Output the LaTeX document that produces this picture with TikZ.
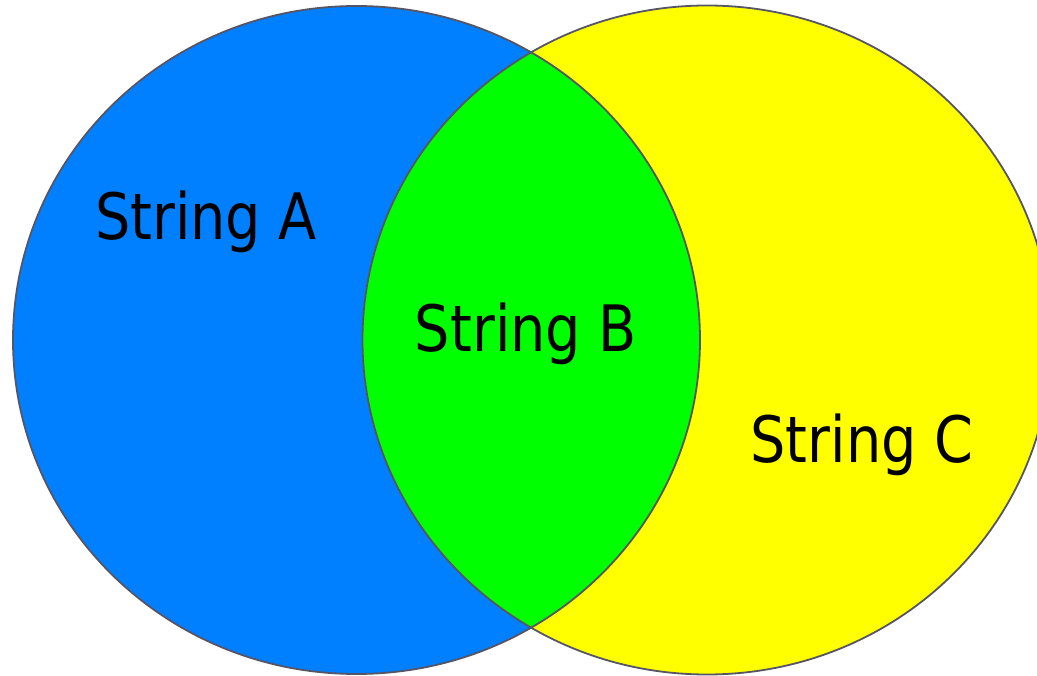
\documentclass[tikz,border=0pt]{standalone}
\usepackage{fontspec}
\newfontfamily\lblfont[FakeStretch=0.87]{DejaVu Sans}
\definecolor{setA}{HTML}{0080FF}
\definecolor{setB}{HTML}{00FF00}
\definecolor{setC}{HTML}{FFFF00}
\definecolor{rim}{HTML}{555566}
\begin{document}
\begin{tikzpicture}[x=1pt,y=-1pt,
  rimline/.style={draw=rim,line width=1.8pt},
  lbl/.style={font=\lblfont\fontsize{64}{70}\selectfont,text=black,anchor=base,inner sep=0pt}]
\useasboundingbox (0,0) rectangle (1037,676);
\clip (0,0) rectangle (1037,676);
\coordinate (cA) at (356.5,340);
\coordinate (cC) at (707,340);
\fill[setA] (cA) ellipse [x radius=343.5, y radius=334];
\fill[setC] (cC) ellipse [x radius=344.5, y radius=334.5];
\begin{scope}
  \clip (cA) ellipse [x radius=343.5, y radius=334];
  \fill[setB] (cC) ellipse [x radius=344.5, y radius=334.5];
\end{scope}
\draw[rimline] (cA) ellipse [x radius=343.5, y radius=334];
\draw[rimline] (cC) ellipse [x radius=344.5, y radius=334.5];
\node[lbl] (a) at (206,240) {String A};
\node[lbl] (b) at (526,352) {String B};
\node[lbl] (c) at (862,463) {String C};
\end{tikzpicture}
\end{document}
